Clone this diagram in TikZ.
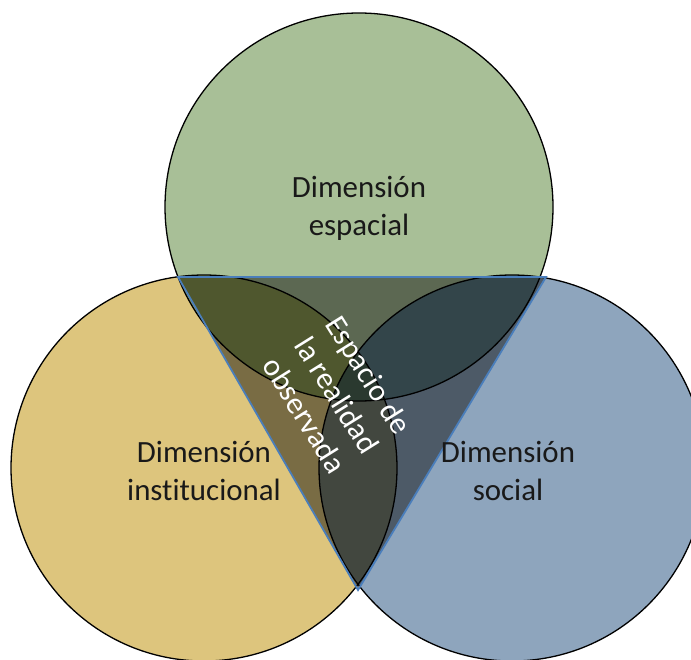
\documentclass[tikz,border=0pt]{standalone}
\usepackage{fontspec}
\setmainfont{Carlito}[Ligatures=NoCommon]
\definecolor{cgreen}{HTML}{A8BF97}
\definecolor{cyellow}{HTML}{DDC57D}
\definecolor{cblue}{HTML}{8EA5BD}
\definecolor{cgy}{HTML}{91A054}
\definecolor{cgb}{HTML}{5D7F87}
\definecolor{cyb}{HTML}{7A8374}
\definecolor{cgyb}{HTML}{4E6957}
\definecolor{triline}{HTML}{4A7EBB}
\begin{document}
\begin{tikzpicture}[x=1bp,y=-1bp,
  outline/.style={draw=black,line width=1.3bp},
  triedge/.style={draw=triline,line width=1.8bp,line join=miter},
  shade/.style={fill=black,fill opacity=0.45},
  lbl/.style={align=center,font=\fontsize{31}{38}\selectfont,text=black!90,inner sep=0pt},
  wlbl/.style={align=center,font=\fontsize{31}{38}\selectfont,text=white,inner sep=0pt}]
\useasboundingbox (0,0) rectangle (691,660);
\clip (0,0) rectangle (691,660);
\coordinate (cT) at (359,207);
\coordinate (cL) at (204,468);
\coordinate (cR) at (512,468);
\coordinate (A) at (178,277);
\coordinate (B) at (546,277);
\coordinate (C) at (358,590);
% circle fills
\fill[cgreen] (cT) circle[radius=194];
\fill[cyellow] (cL) circle[radius=193];
\fill[cblue] (cR) circle[radius=193];
% overlaps
\begin{scope}
  \clip (cT) circle[radius=194];
  \fill[cgy] (cL) circle[radius=193];
\end{scope}
\begin{scope}
  \clip (cT) circle[radius=194];
  \fill[cgb] (cR) circle[radius=193];
\end{scope}
\begin{scope}
  \clip (cL) circle[radius=193];
  \fill[cyb] (cR) circle[radius=193];
\end{scope}
\begin{scope}
  \clip (cT) circle[radius=194];
  \clip (cL) circle[radius=193];
  \fill[cgyb] (cR) circle[radius=193];
\end{scope}
% triangle shading
\fill[shade] (A) -- (B) -- (C) -- cycle;
% outlines
\draw[outline] (cT) circle[radius=194];
\draw[outline] (cL) circle[radius=193];
\draw[outline] (cR) circle[radius=193];
\draw[triedge] (A) -- (B) -- (C) -- cycle;
% labels
\node[lbl] (tEsp) at (359,208) {Dimensión\\espacial};
\node[lbl] (tIns) at (204,471) {Dimensión\\institucional};
\node[lbl] (tSoc) at (508,471) {Dimensión\\social};
\node[wlbl,rotate=-58] (tObs) at (337,395) {Espacio de\\la realidad\\observada};
\end{tikzpicture}
\end{document}
